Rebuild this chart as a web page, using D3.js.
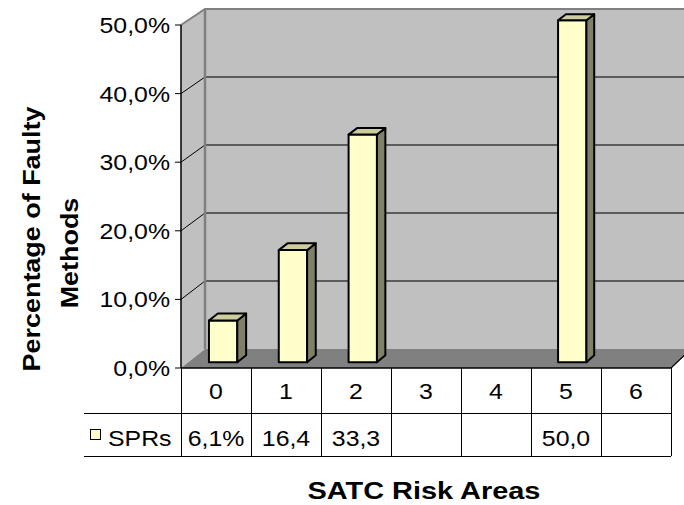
<!DOCTYPE html>
<html>
<head>
<meta charset="utf-8">
<script src="https://cdn.jsdelivr.net/npm/d3@7"></script>
<style>
  html, body { margin: 0; padding: 0; background: #fff; }
  svg { display: block; }
  text { font-family: "Liberation Sans", Arial, Helvetica, sans-serif; fill: #000; }
</style>
</head>
<body>
<svg id="chart" width="684" height="505"></svg>
<script>
// Chart data
const categories = ["0", "1", "2", "3", "4", "5", "6"];
const sprValues = [6.1, 16.4, 33.3, null, null, 50.0, null];
const seriesName = "SPRs";
const yTicks = [0, 10, 20, 30, 40, 50];
const xTitle = "SATC Risk Areas";
const yTitleLines = ["Percentage of Faulty", "Methods"];

const svg = d3.select("#chart");

// Decimal comma locale for the percentage labels
const locale = d3.formatLocale({ decimal: ",", thousands: ".", grouping: [3], currency: ["", ""] });
const fmt1 = locale.format(".1f");
const pct = v => fmt1(v) + "%";

// Front and back planes of the 3D plot box
const xF = d3.scaleBand().domain(categories).range([181, 671]).padding(0);
const xB = d3.scaleBand().domain(categories).range([205, 691]).padding(0);
const yF = d3.scaleLinear().domain([0, 50]).range([368, 25]);
const yB = d3.scaleLinear().domain([0, 50]).range([349, 9]);

// Point inside the box: category band + fraction across it, value, depth t (0 = front, 1 = back)
function px(cat, frac, t) {
  const f = xF(cat) + frac * xF.bandwidth();
  const b = xB(cat) + frac * xB.bandwidth();
  return f * (1 - t) + b * t;
}
function py(v, t) { return yF(v) * (1 - t) + yB(v) * t; }

const first = categories[0], last = categories[categories.length - 1];
const yMax = d3.max(yTicks), yMin = d3.min(yTicks);
const line = d3.line();

// Text is drawn slightly widened along its baseline
const SX = 1.13;
function label(g, str, x, y, opts = {}) {
  const sx = opts.sx || SX;
  const rot = opts.rotate ? ` rotate(${opts.rotate})` : "";
  return g.append("text")
    .attr("transform", `translate(${x},${y})${rot} scale(${sx},1)`)
    .attr("text-anchor", opts.anchor || "start")
    .attr("font-size", opts.size || 22)
    .attr("font-weight", opts.weight || "normal")
    .text(str);
}

const plot = svg.append("g");

// Back wall
plot.append("path")
  .attr("d", line([[px(first, 0, 1), py(yMax, 1)], [px(last, 1, 1), py(yMax, 1)],
                   [px(last, 1, 1), py(yMin, 1)], [px(first, 0, 1), py(yMin, 1)]]) + "Z")
  .attr("fill", "#C0C0C0");

// Left wall
plot.append("path")
  .attr("d", line([[px(first, 0, 0), py(yMax, 0)], [px(first, 0, 1), py(yMax, 1)],
                   [px(first, 0, 1), py(yMin, 1)], [px(first, 0, 0), py(yMin, 0)]]) + "Z")
  .attr("fill", "#C0C0C0");

// Floor
plot.append("path")
  .attr("d", line([[px(first, 0, 0), py(yMin, 0)], [px(last, 1, 0), py(yMin, 0)],
                   [px(last, 1, 1), py(yMin, 1)], [px(first, 0, 1), py(yMin, 1)]]) + "Z")
  .attr("fill", "#808080");

// Gridlines across the back wall and down the left wall
const inner = yTicks.filter(v => v > yMin && v < yMax);
plot.selectAll("line.grid").data(inner).join("line")
  .attr("class", "grid")
  .attr("x1", px(first, 0, 1)).attr("x2", px(last, 1, 1))
  .attr("y1", d => py(d, 1)).attr("y2", d => py(d, 1))
  .attr("stroke", "#3a3a3a").attr("stroke-width", 1.3);
plot.selectAll("line.gridside").data(inner).join("line")
  .attr("class", "gridside")
  .attr("x1", px(first, 0, 0)).attr("x2", px(first, 0, 1))
  .attr("y1", d => py(d, 0)).attr("y2", d => py(d, 1))
  .attr("stroke", "#000").attr("stroke-width", 1);

// Wall outline (top and inner corner)
plot.append("path")
  .attr("d", line([[px(first, 0, 0), py(yMax, 0)], [px(first, 0, 1), py(yMax, 1)],
                   [px(last, 1, 1), py(yMax, 1)]]))
  .attr("fill", "none").attr("stroke", "#808080").attr("stroke-width", 2);
plot.append("line")
  .attr("x1", px(first, 0, 1)).attr("x2", px(first, 0, 1))
  .attr("y1", py(yMax, 1)).attr("y2", py(yMin, 1))
  .attr("stroke", "#808080").attr("stroke-width", 2.5);

// Floor right edge
plot.append("line")
  .attr("x1", px(last, 1, 0)).attr("y1", py(yMin, 0))
  .attr("x2", px(last, 1, 1)).attr("y2", py(yMin, 1))
  .attr("stroke", "#000").attr("stroke-width", 1.2);

// Bars
const t0 = 0.3, t1 = 0.675, f0 = 0.297, f1 = 0.703;
const bars = categories.map((c, i) => ({ c, v: sprValues[i] })).filter(d => d.v != null);
const barG = plot.selectAll("g.bar").data(bars).join("g").attr("class", "bar")
  .attr("stroke", "#000").attr("stroke-width", 2).attr("stroke-linejoin", "round");
barG.append("path")
  .attr("d", d => line([[px(d.c, f0, t0), py(0, t0)], [px(d.c, f1, t0), py(0, t0)],
                        [px(d.c, f1, t0), py(d.v, t0)], [px(d.c, f0, t0), py(d.v, t0)]]) + "Z")
  .attr("fill", "#FFFFCC");
barG.append("path")
  .attr("d", d => line([[px(d.c, f1, t0), py(0, t0)], [px(d.c, f1, t1), py(0, t1)],
                        [px(d.c, f1, t1), py(d.v, t1)], [px(d.c, f1, t0), py(d.v, t0)]]) + "Z")
  .attr("fill", "#808066");
barG.append("path")
  .attr("d", d => line([[px(d.c, f0, t0), py(d.v, t0)], [px(d.c, f1, t0), py(d.v, t0)],
                        [px(d.c, f1, t1), py(d.v, t1)], [px(d.c, f0, t1), py(d.v, t1)]]) + "Z")
  .attr("fill", "#CCCC9F");

// Value axis
const axisX = px(first, 0, 0);
plot.append("line")
  .attr("x1", axisX).attr("x2", axisX)
  .attr("y1", yF(yMax)).attr("y2", yF(yMin))
  .attr("stroke", "#000").attr("stroke-width", 1.5);
plot.selectAll("line.tick").data(yTicks).join("line")
  .attr("class", "tick")
  .attr("x1", axisX - 6).attr("x2", axisX)
  .attr("y1", d => yF(d)).attr("y2", d => yF(d))
  .attr("stroke", "#000").attr("stroke-width", 1);
yTicks.forEach(v => label(svg, pct(v), axisX - 11, yF(v) + 8, { anchor: "end" }));

// Data table under the plot
const table = svg.append("g");
const rowTop = yF(yMin), row1 = 413, row2 = 456, legendLeft = 84;
const tableRight = xF.range()[1];
const cols = categories.map(c => xF(c)).concat([tableRight]);

table.append("line").attr("x1", axisX).attr("x2", tableRight)
  .attr("y1", rowTop).attr("y2", rowTop).attr("stroke", "#000").attr("stroke-width", 1.3);
[row1, row2].forEach(y => table.append("line")
  .attr("x1", legendLeft).attr("x2", tableRight)
  .attr("y1", y + 0.5).attr("y2", y + 0.5).attr("stroke", "#000").attr("stroke-width", 1));
cols.forEach(x => table.append("line")
  .attr("x1", Math.round(x) + 0.5).attr("x2", Math.round(x) + 0.5)
  .attr("y1", rowTop).attr("y2", row2).attr("stroke", "#000").attr("stroke-width", 1));

// Category labels
categories.forEach(c => label(table, c, xF(c) + xF.bandwidth() / 2, 399, { anchor: "middle" }));

// Series values, cut short when they do not fit in a cell
const cellW = xF.bandwidth() - 4;
categories.forEach((c, i) => {
  const v = sprValues[i];
  if (v == null) return;
  let str = pct(v);
  const t = label(table, str, xF(c) + xF.bandwidth() / 2, 446, { anchor: "middle" });
  while (str.length > 1 && t.node().getComputedTextLength() * SX > cellW) {
    str = str.slice(0, -1);
    t.text(str);
  }
});

// Legend key and series name
table.append("rect")
  .attr("x", 90.5).attr("y", 429.5).attr("width", 10).attr("height", 10)
  .attr("fill", "#FFFFCC").attr("stroke", "#000").attr("stroke-width", 1);
label(table, seriesName, 108, 446);

// Axis titles
label(svg, xTitle, 424, 499, { anchor: "middle", weight: "bold", size: 24.5, sx: 1.18 });
label(svg, yTitleLines[0], 40, 239, { anchor: "middle", weight: "bold", size: 23.5, sx: 1.146, rotate: -90 });
label(svg, yTitleLines[1], 78, 253, { anchor: "middle", weight: "bold", size: 23.5, sx: 1.146, rotate: -90 });
</script>
</body>
</html>
